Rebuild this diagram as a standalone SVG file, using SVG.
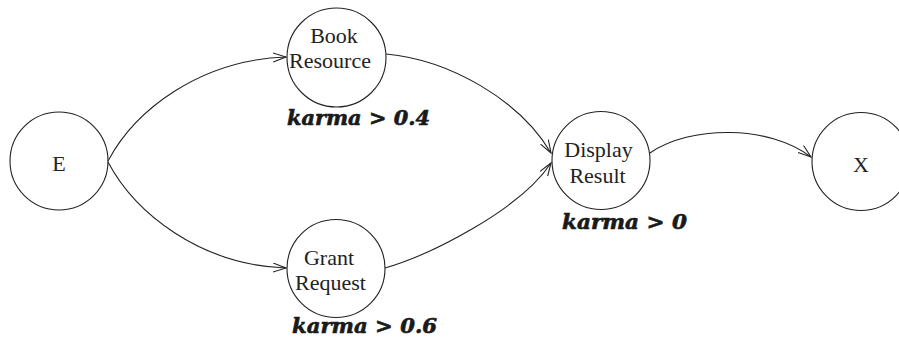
<svg xmlns="http://www.w3.org/2000/svg" width="899" height="343" viewBox="0 0 899 343">
<style>
.node{fill:none;stroke:#222;stroke-width:1.1}
.lbl{font-family:"Liberation Serif","Times New Roman",serif;font-size:22px;fill:#222;text-anchor:middle}
.cond{font-family:"DejaVu Serif",serif;font-size:20px;font-weight:bold;font-style:italic;fill:#1a1a1a;stroke:#1a1a1a;stroke-width:0.6}
.edge{fill:none;stroke:#222;stroke-width:1.1}
</style>
<defs>
<marker id="arr" markerUnits="userSpaceOnUse" markerWidth="16" markerHeight="12" refX="13" refY="5" orient="auto" viewBox="0 0 16 12">
<path d="M0,0.5 L13,5 L0,9.5" fill="none" stroke="#222" stroke-width="1.1"/>
</marker>
</defs>
<rect width="899" height="343" fill="#fff"/>
<g id="connectors">
<path class="edge" d="M108,161 C135,110 200,60 286,57" marker-end="url(#arr)"/>
<path class="edge" d="M108,162 C135,213 200,265 286,268" marker-end="url(#arr)"/>
<path class="edge" d="M386,54 C450,60 520,100 551,153" marker-end="url(#arr)"/>
<path class="edge" d="M385,268 C430,255 520,210 551,163" marker-end="url(#arr)"/>
<path class="edge" d="M650,153 C690,125 770,125 811,157" marker-end="url(#arr)"/>
</g>
<g id="E">
<circle class="node" cx="59" cy="161" r="49"/>
<text class="lbl" x="59" y="171">E</text>
</g>
<g id="BookResource">
<circle class="node" cx="336.5" cy="57.5" r="49.5"/>
<text class="lbl" x="334" y="43">Book</text>
<text class="lbl" x="330" y="68">Resource</text>
<text class="cond" x="287" y="125" textLength="143" lengthAdjust="spacingAndGlyphs">karma &gt; 0.4</text>
</g>
<g id="GrantRequest">
<circle class="node" cx="336" cy="268.5" r="49"/>
<text class="lbl" x="329" y="265">Grant</text>
<text class="lbl" x="330.5" y="290">Request</text>
<text class="cond" x="292" y="333" textLength="145" lengthAdjust="spacingAndGlyphs">karma &gt; 0.6</text>
</g>
<g id="DisplayResult">
<circle class="node" cx="601" cy="160.5" r="49"/>
<text class="lbl" x="598.5" y="157">Display</text>
<text class="lbl" x="597.5" y="183">Result</text>
<text class="cond" x="562" y="229" textLength="125" lengthAdjust="spacingAndGlyphs">karma &gt; 0</text>
</g>
<g id="X">
<circle class="node" cx="861" cy="161.5" r="49"/>
<text class="lbl" x="861" y="172">X</text>
</g>
</svg>
